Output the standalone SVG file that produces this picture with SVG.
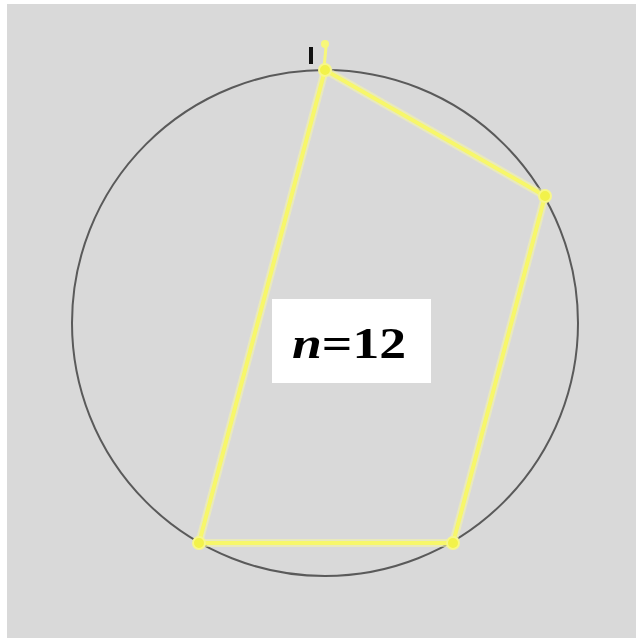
<svg xmlns="http://www.w3.org/2000/svg" width="636" height="638" viewBox="0 0 636 638">
<style>
.edge{stroke:#f7f76a;stroke-width:4;fill:none;stroke-linecap:round;stroke-linejoin:round}
.glow{stroke:#f4f4a8;stroke-width:8;fill:none;opacity:0.6}
.vtx{fill:#f2f24a;stroke:#f7f78a;stroke-width:2}
</style>
<rect x="0" y="0" width="636" height="638" fill="#ffffff"/>
<rect x="7" y="4" width="629" height="634" fill="#d9d9d9"/>
<g id="circle">
<circle cx="325" cy="323" r="253" fill="none" stroke="#5a5a5a" stroke-width="2"/>
</g>
<g id="connectors">
<polygon class="glow" points="325,70 545,196 453,543 199,543"/>
<polygon class="edge" points="325,70 545,196 453,543 199,543"/>
<line x1="324" y1="68" x2="326" y2="47" stroke="#f7f77a" stroke-width="3"/>
</g>
<g id="marker-top">
<rect x="309" y="47" width="4" height="17" fill="#111"/>
<circle cx="325" cy="44" r="4" fill="#f7f77a"/>
</g>
<g id="v1"><circle class="vtx" cx="325" cy="70" r="6"/></g>
<g id="v2"><circle class="vtx" cx="545" cy="196" r="6"/></g>
<g id="v3"><circle class="vtx" cx="453" cy="543" r="6"/></g>
<g id="v4"><circle class="vtx" cx="199" cy="543" r="6"/></g>
<g id="label">
<rect x="272" y="299" width="159" height="84" fill="#ffffff"/>
<text style="font-family:'Liberation Serif','Times New Roman',serif;font-weight:700;font-size:44px" fill="#000" transform="translate(292,358) scale(1.22,1)"><tspan style="font-style:italic">n</tspan>=12</text>
</g>
</svg>
